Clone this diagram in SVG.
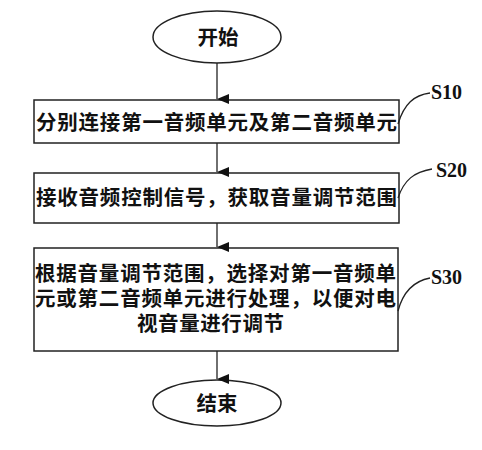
<svg xmlns="http://www.w3.org/2000/svg" width="482" height="450" viewBox="0 0 482 450">
<style>
.shape{fill:#fff;stroke:#222;stroke-width:1.5}
.cn{font-family:"Noto Sans CJK SC","Noto Sans CJK JP",sans-serif;font-size:20.5px;font-weight:bold;fill:#111}
.lbl{font-family:"Liberation Serif",serif;font-size:20px;font-weight:bold;fill:#111}
.conn{stroke:#222;stroke-width:1.3;fill:none}
.lead{stroke:#222;stroke-width:1.3;fill:none}
</style>
<defs>
<marker id="arr" markerWidth="10" markerHeight="12" refX="5" refY="12" orient="auto" markerUnits="userSpaceOnUse" viewBox="0 0 10 12">
<path d="M0,0 L10,0 L5,12 Z" fill="#111"/>
</marker>
</defs>
<g id="start">
<ellipse class="shape" cx="217" cy="37" rx="64" ry="26"/>
<text class="cn" x="218" y="45" text-anchor="middle">开始</text>
</g>
<g id="s10">
<rect class="shape" x="34" y="100" width="365" height="43"/>
<text class="cn" x="36" y="130" textLength="361" lengthAdjust="spacing">分别连接第一音频单元及第二音频单元</text>
<path class="lead" d="M398,124 C404,104 414,95 430,93"/>
<text class="lbl" x="431" y="99">S10</text>
</g>
<g id="s20">
<rect class="shape" x="34" y="173" width="365" height="50"/>
<text class="cn" x="36" y="205" textLength="361" lengthAdjust="spacing">接收音频控制信号，获取音量调节范围</text>
<path class="lead" d="M398,198 C404,180 414,172 432,169"/>
<text class="lbl" x="436" y="177">S20</text>
</g>
<g id="s30">
<rect class="shape" x="34" y="248" width="364" height="103"/>
<text class="cn" x="35" y="281" textLength="361" lengthAdjust="spacing">根据音量调节范围，选择对第一音频单</text>
<text class="cn" x="35" y="306" textLength="361" lengthAdjust="spacing">元或第二音频单元进行处理，以便对电</text>
<text class="cn" x="137" y="331" textLength="147" lengthAdjust="spacing">视音量进行调节</text>
<path class="lead" d="M398,311 C403,292 414,281 430,278"/>
<text class="lbl" x="431" y="284">S30</text>
</g>
<g id="end">
<ellipse class="shape" cx="217" cy="403" rx="64" ry="23"/>
<text class="cn" x="217" y="411" text-anchor="middle">结束</text>
</g>
<g id="connectors">
<line class="conn" x1="217" y1="63" x2="217" y2="99" marker-end="url(#arr)"/>
<line class="conn" x1="217" y1="143" x2="217" y2="172" marker-end="url(#arr)"/>
<line class="conn" x1="217" y1="223" x2="217" y2="247" marker-end="url(#arr)"/>
<line class="conn" x1="217" y1="351" x2="217" y2="379" marker-end="url(#arr)"/>
</g>
</svg>
